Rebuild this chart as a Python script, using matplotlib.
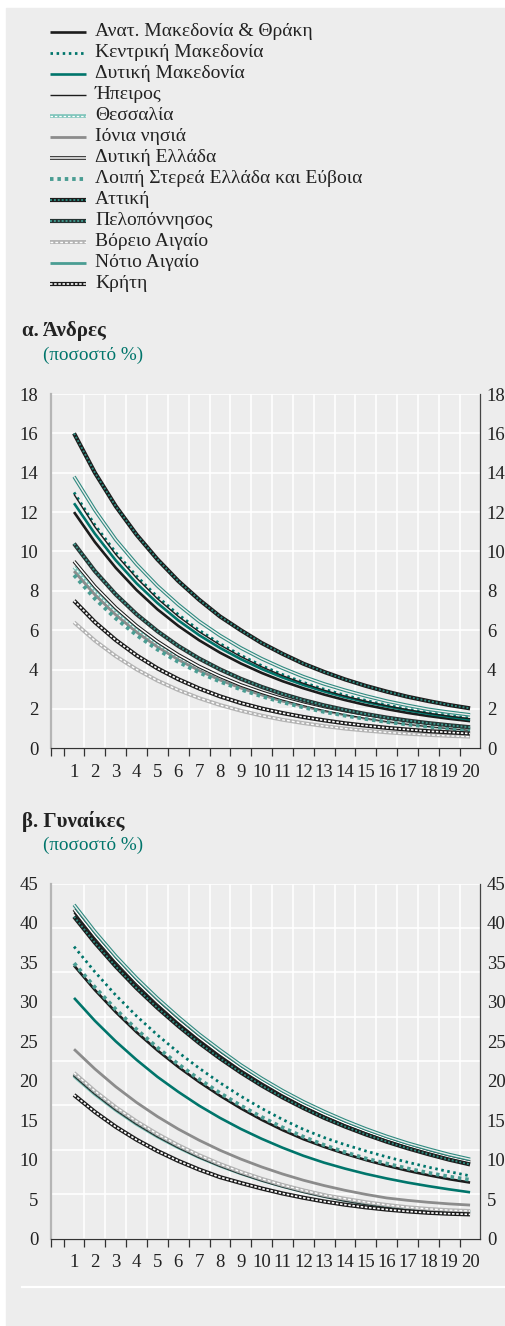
import matplotlib
matplotlib.use("Agg")
import matplotlib.pyplot as plt
from matplotlib.lines import Line2D
from matplotlib.patches import Rectangle

# ---------------- data ----------------
categories = list(range(1, 21))
x_labels = [str(c) for c in categories]

regions = ["Ανατ. Μακεδονία & Θράκη", "Κεντρική Μακεδονία", "Δυτική Μακεδονία",
           "Ήπειρος", "Θεσσαλία", "Ιόνια νησιά", "Δυτική Ελλάδα",
           "Λοιπή Στερεά Ελλάδα και Εύβοια", "Αττική", "Πελοπόννησος",
           "Βόρειο Αιγαίο", "Νότιο Αιγαίο", "Κρήτη"]

men_yticks = [0, 2, 4, 6, 8, 10, 12, 14, 16, 18]
women_yticks = [0, 5, 10, 15, 20, 25, 30, 35, 40, 45]

# Men (%)
men_anat = [12.0, 10.48, 9.17, 8.04, 7.06, 6.22, 5.49, 4.86, 4.31, 3.83, 3.41, 3.05, 2.73, 2.45, 2.2, 1.99, 1.8, 1.64, 1.5, 1.38]
men_kentr = [13.0, 11.35, 9.95, 8.75, 7.7, 6.8, 6.0, 5.32, 4.73, 4.2, 3.75, 3.35, 3.0, 2.7, 2.43, 2.2, 1.99, 1.81, 1.66, 1.53]
men_dytmak = [12.45, 10.9, 9.55, 8.38, 7.38, 6.5, 5.75, 5.1, 4.53, 4.03, 3.6, 3.22, 2.89, 2.6, 2.35, 2.13, 1.93, 1.75, 1.6, 1.46]
men_ipeiros = [12.9, 11.25, 9.85, 8.65, 7.6, 6.7, 5.92, 5.25, 4.66, 4.14, 3.69, 3.3, 2.95, 2.65, 2.39, 2.16, 1.96, 1.78, 1.63, 1.5]
men_thess = [9.2, 7.96, 6.91, 6.02, 5.25, 4.6, 4.03, 3.54, 3.12, 2.76, 2.44, 2.17, 1.93, 1.73, 1.55, 1.39, 1.26, 1.14, 1.04, 0.96]
men_ionia = [9.0, 7.8, 6.78, 5.9, 5.15, 4.5, 3.95, 3.47, 3.06, 2.71, 2.4, 2.13, 1.9, 1.7, 1.52, 1.37, 1.24, 1.13, 1.03, 0.95]
men_dytell = [9.5, 8.22, 7.14, 6.22, 5.43, 4.75, 4.16, 3.66, 3.22, 2.85, 2.52, 2.24, 1.99, 1.78, 1.59, 1.43, 1.29, 1.17, 1.07, 0.98]
men_loipi = [8.8, 7.6, 6.6, 5.75, 5.02, 4.39, 3.85, 3.39, 2.99, 2.64, 2.34, 2.08, 1.85, 1.66, 1.49, 1.34, 1.21, 1.1, 1.0, 0.92]
men_attiki = [16.0, 14.0, 12.3, 10.85, 9.6, 8.5, 7.55, 6.7, 6.0, 5.35, 4.8, 4.3, 3.88, 3.5, 3.17, 2.88, 2.62, 2.4, 2.2, 2.03]
men_pelop = [10.4, 9.0, 7.82, 6.81, 5.95, 5.2, 4.56, 4.01, 3.53, 3.12, 2.76, 2.45, 2.18, 1.95, 1.74, 1.56, 1.41, 1.28, 1.17, 1.07]
men_voreio = [6.4, 5.47, 4.68, 4.01, 3.44, 2.96, 2.55, 2.2, 1.91, 1.66, 1.45, 1.28, 1.13, 1.0, 0.9, 0.81, 0.74, 0.68, 0.63, 0.59]
men_notio = [13.8, 12.1, 10.6, 9.35, 8.25, 7.3, 6.45, 5.73, 5.1, 4.55, 4.07, 3.64, 3.27, 2.95, 2.66, 2.4, 2.18, 1.98, 1.83, 1.7]
men_kriti = [7.5, 6.41, 5.5, 4.72, 4.06, 3.51, 3.04, 2.64, 2.3, 2.02, 1.79, 1.59, 1.42, 1.27, 1.15, 1.04, 0.95, 0.87, 0.81, 0.75]

# Women (%)
women_anat = [34.6, 31.5, 28.7, 26.15, 23.85, 21.75, 19.85, 18.1, 16.5, 15.05, 13.75, 12.6, 11.62, 10.74, 9.95, 9.24, 8.6, 8.03, 7.53, 7.1]
women_kentr = [37.0, 33.8, 30.85, 28.2, 25.8, 23.6, 21.6, 19.75, 18.05, 16.5, 15.1, 13.85, 12.8, 11.9, 11.1, 10.35, 9.68, 9.05, 8.48, 7.95]
women_dytmak = [30.5, 27.6, 25.0, 22.65, 20.5, 18.6, 16.85, 15.3, 13.9, 12.65, 11.52, 10.5, 9.62, 8.87, 8.2, 7.62, 7.1, 6.65, 6.24, 5.87]
women_ipeiros = [41.3, 37.95, 34.9, 32.1, 29.6, 27.3, 25.15, 23.2, 21.4, 19.75, 18.25, 16.85, 15.6, 14.45, 13.43, 12.5, 11.65, 10.88, 10.18, 9.55]
women_thess = [20.6, 18.3, 16.3, 14.5, 12.93, 11.55, 10.32, 9.23, 8.27, 7.41, 6.65, 5.98, 5.39, 4.88, 4.45, 4.1, 3.82, 3.6, 3.45, 3.35]
women_ionia = [24.0, 21.5, 19.25, 17.25, 15.47, 13.88, 12.47, 11.2, 10.08, 9.08, 8.19, 7.4, 6.72, 6.12, 5.6, 5.15, 4.85, 4.6, 4.4, 4.25]
women_dytell = [41.7, 38.35, 35.3, 32.5, 29.95, 27.6, 25.45, 23.45, 21.6, 19.95, 18.4, 17.0, 15.75, 14.6, 13.58, 12.63, 11.78, 11.0, 10.3, 9.7]
women_loipi = [34.9, 31.85, 29.05, 26.5, 24.2, 22.1, 20.2, 18.45, 16.85, 15.4, 14.08, 12.9, 11.85, 10.95, 10.15, 9.5, 8.88, 8.33, 7.85, 7.45]
women_attiki = [40.8, 37.5, 34.5, 31.75, 29.25, 26.95, 24.8, 22.85, 21.05, 19.4, 17.9, 16.55, 15.3, 14.2, 13.2, 12.28, 11.45, 10.7, 10.0, 9.4]
women_pelop = [20.8, 18.5, 16.47, 14.67, 13.08, 11.68, 10.43, 9.33, 8.35, 7.48, 6.71, 6.03, 5.43, 4.92, 4.48, 4.12, 3.84, 3.63, 3.48, 3.38]
women_voreio = [21.0, 18.7, 16.65, 14.85, 13.25, 11.83, 10.57, 9.45, 8.46, 7.58, 6.8, 6.12, 5.52, 5.05, 4.62, 4.27, 3.98, 3.76, 3.6, 3.5]
women_notio = [42.3, 38.9, 35.8, 33.0, 30.45, 28.1, 25.9, 23.9, 22.0, 20.3, 18.75, 17.35, 16.1, 14.95, 13.9, 12.95, 12.1, 11.35, 10.65, 10.05]
women_kriti = [18.2, 16.05, 14.17, 12.53, 11.1, 9.85, 8.75, 7.79, 7.05, 6.35, 5.72, 5.18, 4.7, 4.3, 3.96, 3.68, 3.45, 3.27, 3.15, 3.07]

men_series = [men_anat, men_kentr, men_dytmak, men_ipeiros, men_thess, men_ionia, men_dytell,
              men_loipi, men_attiki, men_pelop, men_voreio, men_notio, men_kriti]
women_series = [women_anat, women_kentr, women_dytmak, women_ipeiros, women_thess, women_ionia, women_dytell,
                women_loipi, women_attiki, women_pelop, women_voreio, women_notio, women_kriti]

# ---------------- styles ----------------
BG = "#ededed"
TEAL = "#00756b"
MTEAL = "#4a9d93"
BLACK = "#1c1c1c"
TXT = "#222222"

plot_styles = [
    [dict(color=BLACK, lw=1.9)],
    [dict(color=TEAL, lw=2.0, ls=(0, (0.9, 1.3)))],
    [dict(color=TEAL, lw=1.9)],
    [dict(color=BLACK, lw=1.0)],
    [dict(color="#7cc4ba", lw=2.6), dict(color="white", lw=0.9, ls=(0, (2, 1.5)))],
    [dict(color="#8c8c8c", lw=2.0)],
    [dict(color=BLACK, lw=2.6), dict(color="white", lw=1.1)],
    [dict(color=MTEAL, lw=2.8, ls=(0, (0.9, 1.0)))],
    [dict(color=BLACK, lw=3.0), dict(color="#2e8a7f", lw=1.4, ls=(0, (1, 1)))],
    [dict(color="#253332", lw=3.0), dict(color="#3f968b", lw=1.4, ls=(0, (1, 1)))],
    [dict(color="#b3b3b3", lw=2.8), dict(color="white", lw=1.0, ls=(0, (2, 1.5)))],
    [dict(color="#2f8a80", lw=2.6), dict(color=BG, lw=1.0)],
    [dict(color=BLACK, lw=3.0), dict(color="white", lw=1.2, ls=(0, (1.5, 1)))],
]
legend_styles = list(plot_styles)
legend_styles[11] = [dict(color=MTEAL, lw=2.0)]

plt.rcParams["font.family"] = ["Liberation Serif", "DejaVu Serif"]

W, H = 506, 1326
fig = plt.figure(figsize=(W / 100, H / 100), dpi=100)
fig.patch.set_facecolor("white")

# background / legend canvas in pixel coordinates
bg = fig.add_axes([0, 0, 1, 1])
bg.set_xlim(0, W)
bg.set_ylim(H, 0)
bg.axis("off")
bg.add_patch(Rectangle((6, 8), W - 6, H - 8, color=BG, zorder=0))

# legend
for i, (name, st) in enumerate(zip(regions, legend_styles)):
    yy = 31.5 + 21 * i
    for s in st:
        ln = Line2D([50, 86], [yy, yy], color=s["color"], lw=s["lw"],
                    linestyle=s.get("ls", "-"), solid_capstyle="butt", dash_capstyle="butt")
        bg.add_line(ln)
    bg.text(95, yy, name, fontsize=14, va="center", ha="left", color=TXT)

# titles
bg.text(22, 331, "α. Άνδρες", fontsize=15, fontweight="bold", va="center", color=TXT)
bg.text(43, 355, "(ποσοστό %)", fontsize=13.8, va="center", color=TEAL)
bg.text(22, 822, "β. Γυναίκες", fontsize=15, fontweight="bold", va="center", color=TXT)
bg.text(43, 845, "(ποσοστό %)", fontsize=13.8, va="center", color=TEAL)

# bottom white rule
bg.add_line(Line2D([22, W], [1287, 1287], color="white", lw=1.6))

TICKSIZE = 13.5


def make_axes(top_px, bottom_px, ymax, yticks, series, hgrid):
    left_px, right_px = 50.7, 480.5
    ax = fig.add_axes([left_px / W, 1 - bottom_px / H, (right_px - left_px) / W, (bottom_px - top_px) / H])
    ax.set_facecolor(BG)
    ax.set_xlim(-0.12, 20.5)
    ax.set_ylim(0, ymax)
    for yv in hgrid:
        ax.axhline(yv, color="white", lw=1.2, zorder=1)
    for b in range(1, 20):
        ax.axvline(b + 0.5, color="white", lw=1.2, zorder=1)
    for ys, st in zip(series, plot_styles):
        for s in st:
            ax.plot(categories, ys, color=s["color"], lw=s["lw"], linestyle=s.get("ls", "-"),
                    solid_capstyle="butt", dash_capstyle="butt", zorder=3)
    ax.set_xticks(categories)
    ax.set_xticklabels(x_labels)
    ax.set_xticks([-0.12] + [b + 0.5 for b in range(0, 20)], minor=True)
    ax.tick_params(axis="x", which="major", length=0, pad=11, labelsize=TICKSIZE, colors=TXT)
    ax.tick_params(axis="x", which="minor", length=6, width=0.9, direction="out", color="#333333")
    ax.set_yticks(yticks)
    ax.tick_params(axis="y", which="both", length=0, labelsize=TICKSIZE, colors=TXT, pad=9)
    ax.spines["top"].set_visible(False)
    ax.spines["left"].set_color("#b5b5b5")
    ax.spines["left"].set_linewidth(1.6)
    ax.spines["right"].set_color("#444444")
    ax.spines["right"].set_linewidth(0.9)
    ax.spines["bottom"].set_color("#333333")
    ax.spines["bottom"].set_linewidth(0.9)

    axr = ax.twinx()
    axr.set_ylim(0, ymax)
    axr.set_yticks(yticks)
    axr.tick_params(axis="y", length=0, labelsize=TICKSIZE, colors=TXT, pad=4.5)
    for sp in axr.spines.values():
        sp.set_visible(False)
    return ax


ax1 = make_axes(394, 748.3, 18, men_yticks, men_series, men_yticks)
ax2 = make_axes(883.5, 1238.6, 45, women_yticks, women_series, [45 * k / 8 for k in range(9)])

fig.savefig("out.png", dpi=100, facecolor=fig.get_facecolor())
